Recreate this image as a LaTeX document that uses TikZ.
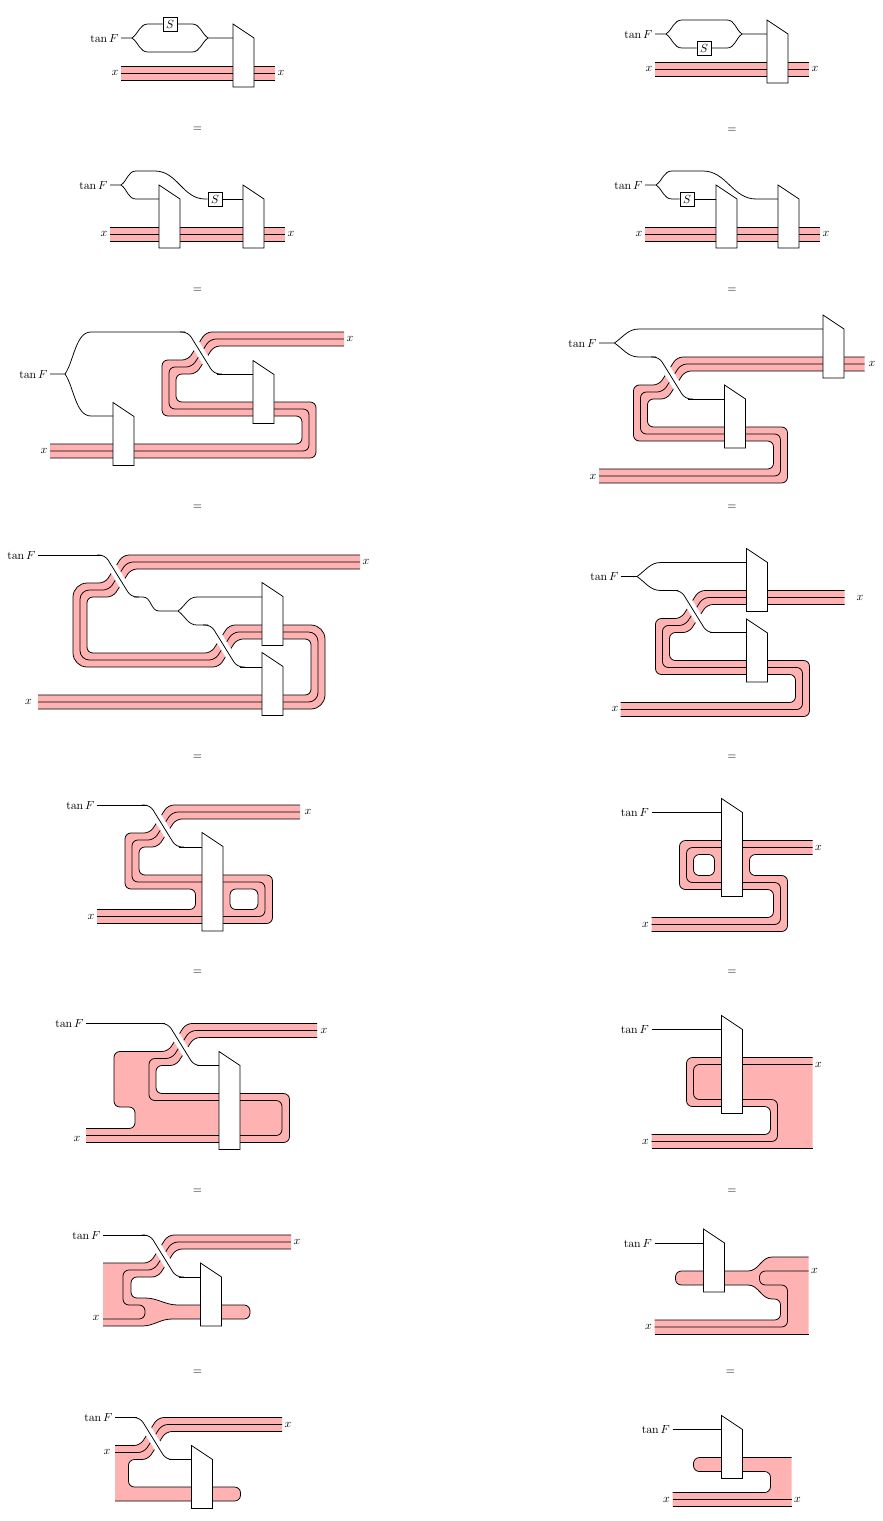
\documentclass[tikz,border=0pt]{standalone}
\tikzset{
  wire/.style={line width=0.65pt},
  strand/.style={wire,rounded corners=5pt},
  ribbonfill/.style={fill=red!30,rounded corners=5pt},
  halo/.style={white,line width=7.5pt},
  lensbox/.style={draw,fill=white,line width=0.65pt,line join=miter},
  sbox/.style={draw,fill=white,line width=0.65pt,minimum size=11.9pt,inner sep=0pt},
  lblL/.style={anchor=east,inner sep=2pt},
  lblR/.style={anchor=west,inner sep=2pt}
}
% band: first edge and its end, middle, last edge (start, rest, end)
\newcommand{\ribbon}[6]{
  \fill[ribbonfill] #1 [sharp corners] -- #2 -- #4 [rounded corners=5pt] #5 [sharp corners] -- #6 -- cycle;
  \draw[strand] #1 [sharp corners] -- #2; \draw[strand] #3; \draw[strand] #4 #5 [sharp corners] -- #6;
}
% wire over band
\newcommand{\xing}[2]{
  \draw[halo] ({#1+5},{#2+3}) -- ({#1+27},{#2+39});
  \draw[strand] ({#1-5},#2) -- ({#1+3},#2) -- ({#1+29},{#2+42}) -- ({#1+37},{#2+42});
}
\begin{document}
\begin{tikzpicture}[x=0.85pt,y=-0.85pt]
\useasboundingbox (0,0) rectangle (883,1521);
\foreach \x/\y in {197.5/129.5,197.5/290.5,197.5/507.5,197.5/757.5,197.5/972.5,197.5/1191.5,197.5/1372.5,732/130,732/290.5,732/507.5,732/757.5,732/972.5,732/1191.5,730.5/1372.5} \node at (\x,\y) {$=$};

% left column, first row
\ribbon{(121,66)}{(275,66)}{(121,73) -- (275,73)}{(275,80)}{}{(121,80)}
\node[lblL] (tanA) at (121,38) {$\tan F$}; \node[lblL] (xAl) at (121,73) {$x$}; \node[lblR] (xAr) at (275,73) {$x$};
\node[sbox] (sA) at (170,24) {$S$};
\draw[wire] (tanA) -- (132,38) to[out=35,in=180] (148,24) -- (sA);
\draw[wire] (sA) -- (192,24) to[out=0,in=145] (208,38) -- (233,38);
\draw[wire] (132,38) to[out=-35,in=180] (148,52) -- (192,52) to[out=0,in=-145] (208,38);

% second row
\ribbon{(110,227)}{(285,227)}{(110,234) -- (285,234)}{(285,241)}{}{(110,241)}
\node[lblL] (tanB) at (110,185) {$\tan F$}; \node[lblL] (xBl) at (110,234) {$x$}; \node[lblR] (xBr) at (285,234) {$x$};
\node[sbox] (sB) at (215,199) {$S$};
\draw[wire] (tanB) -- (121,185) to[out=35,in=180] (136,171) -- (155,171) to[out=0,in=180] (205,199) -- (sB);
\draw[wire] (sB) -- (243,199);
\draw[wire] (121,185) to[out=-35,in=180] (136,199) -- (159,199);

% third row
\ribbon{(344,332) -- (206,332) -- (188,360) -- (162,360) -- (162,416) -- (302,416) -- (302,444)}{(50,444)}
{(344,339) -- (210,339) -- (192,367) -- (169,367) -- (169,409) -- (309,409) -- (309,451) -- (50,451)}
{(50,458)}{-- (316,458) -- (316,402) -- (176,402) -- (176,374) -- (196,374) -- (214,346)}{(344,346)}
\node[lblL] (tanC) at (50,374) {$\tan F$}; \node[lblL] (xCl) at (50,451) {$x$}; \node[lblR] (xCr) at (344,339) {$x$};
\draw[wire] (tanC) -- (65,374) to[out=55,in=180,looseness=0.8] (91,332) -- (185,332);
\draw[wire] (65,374) to[out=-55,in=180,looseness=0.8] (91,416) -- (113,416);
\xing{185}{332}
\draw[wire] (217,374) -- (253,374);

% fourth row
\ribbon{(360,555) -- (123,555) -- (105,583) [rounded corners=12pt] -- (73,583) -- (73,667) [rounded corners=5pt] -- (219,667) -- (237,639) -- (311,639) -- (311,695)}{(38,695)}
{(360,562) -- (127,562) -- (109,590) [rounded corners=8pt] -- (80,590) -- (80,660) [rounded corners=5pt] -- (215,660) -- (233,632) [rounded corners=8pt] -- (318,632) -- (318,702) -- (38,702)}
{(38,709)}{[rounded corners=12pt] -- (325,709) -- (325,625) [rounded corners=5pt] -- (229,625) -- (211,653) -- (87,653) -- (87,597) -- (113,597) -- (131,569)}{(360,569)}
\node[lblL] (tanD) at (38,555) {$\tan F$}; \node[lblL] (xDl) at (34.5,702) {$x$}; \node[lblR] (xDr) at (360,562) {$x$};
\draw[wire] (tanD) -- (102,555);
\xing{102}{555}
\draw[wire] (134,597) -- (143,597) to[out=0,in=180] (159,611) -- (178,611) to[out=35,in=180] (197,597) -- (262,597);
\draw[wire] (178,611) to[out=-35,in=180] (197,625) -- (208,625);
\xing{208}{625}
\draw[wire] (240,667) -- (262,667);

% fifth row
\ribbon{(300,805) -- (168,805) -- (150,833) -- (125,833) -- (125,889) -- (195.5,889) -- (195.5,909.5)}{(97,909.5)}
{(300,812) -- (172,812) -- (154,840) -- (132,840) -- (132,882) -- (265,882) -- (265,916.5) -- (97,916.5)}
{(97,923.5)}{-- (272.5,923.5) -- (272.5,875) -- (139,875) -- (139,847) -- (158,847) -- (176,819)}{(300,819)}
\draw[strand,fill=white] (230,889) rectangle (258,909.5);
\node[lblL] (tanE) at (97,805) {$\tan F$}; \node[lblL] (xEl) at (97,916.5) {$x$}; \node[lblR] (xEr) at (302,812) {$x$};
\draw[wire] (tanE) -- (147,805);
\xing{147}{805}
\draw[wire] (179,847) -- (202,847);

% sixth row
\ribbon{(317,1023.5) -- (186,1023.5) -- (168,1051.5) -- (114,1051.5) -- (114,1107) -- (135,1107) -- (135,1128.5)}{(86,1128.5)}
{(317,1030.5) -- (190,1030.5) -- (172,1058.5) -- (149,1058.5) -- (149,1100.5) -- (282,1100.5) -- (282,1135.5) -- (86,1135.5)}
{(86,1142.5)}{-- (289.5,1142.5) -- (289.5,1093.5) -- (156,1093.5) -- (156,1065.5) -- (176,1065.5) -- (194,1037.5)}{(317,1037.5)}
\node[lblL] (tanF) at (86,1023.5) {$\tan F$}; \node[lblL] (xFl) at (83,1139) {$x$}; \node[lblR] (xFr) at (318,1030.5) {$x$};
\draw[wire] (tanF) -- (165,1023.5);
\xing{165}{1023.5}
\draw[wire] (197,1065.5) -- (219,1065.5);

% seventh row
\ribbon{(291,1235) -- (168,1235) -- (150,1263)}{(103,1263)}
{(291,1242) -- (172,1242) -- (154,1270) -- (123,1270) -- (123,1305) -- (145,1305) -- (145,1319) -- (103,1319)}
{(103,1326)}{[sharp corners] -- (142,1326) to[out=0,in=180] (172,1319) [rounded corners=5pt] -- (250,1319) -- (250,1305) [sharp corners] -- (178,1305) to[out=180,in=0] (145,1298) [rounded corners=5pt] -- (131,1298) -- (131,1277) -- (158,1277) -- (176,1249)}{(291,1249)}
\node[lblL] (tanG) at (103,1235) {$\tan F$}; \node[lblL] (xGl) at (102,1318) {$x$}; \node[lblR] (xGr) at (291,1242) {$x$};
\draw[wire] (tanG) -- (147,1235);
\xing{147}{1235}
\draw[wire] (179,1277) -- (200.5,1277);

% eighth row
\ribbon{(282,1417.5) -- (158,1417.5) -- (140,1445.5)}{(115,1445.5)}
{(282,1424.5) -- (162,1424.5) -- (144,1452.5) -- (115,1452.5)}
{(115,1501)}{-- (240.5,1501) -- (240.5,1487) -- (128.5,1487) -- (128.5,1459.5) -- (148,1459.5) -- (166,1431.5)}{(282,1431.5)}
\node[lblL] (tanH) at (115,1417.5) {$\tan F$}; \node[lblL] (xHl) at (113,1452) {$x$}; \node[lblR] (xHr) at (282,1424.5) {$x$};
\draw[wire] (tanH) -- (137,1417.5);
\xing{137}{1417.5}
\draw[wire] (169,1459.5) -- (191.5,1459.5);

% right column, first row
\ribbon{(655,62)}{(809,62)}{(655,69) -- (809,69)}{(809,76)}{}{(655,76)}
\node[lblL] (tanI) at (655,34) {$\tan F$}; \node[lblL] (xIl) at (655,69) {$x$}; \node[lblR] (xIr) at (809,69) {$x$};
\node[sbox] (sI) at (704,48) {$S$};
\draw[wire] (tanI) -- (666,34) to[out=35,in=180] (682,20) -- (727,20) to[out=0,in=145] (742,34) -- (767,34);
\draw[wire] (666,34) to[out=-35,in=180] (682,48) -- (sI);
\draw[wire] (sI) -- (727,48) to[out=0,in=-145] (742,34);

% second row
\ribbon{(645,227)}{(820,227)}{(645,234) -- (820,234)}{(820,241)}{}{(645,241)}
\node[lblL] (tanJ) at (645,185) {$\tan F$}; \node[lblL] (xJl) at (645,234) {$x$}; \node[lblR] (xJr) at (820,234) {$x$};
\node[sbox] (sJ) at (687,199) {$S$};
\draw[wire] (tanJ) -- (656,185) to[out=35,in=180] (672,171) -- (703,171) to[out=0,in=180] (756,199) -- (778,199);
\draw[wire] (656,185) to[out=-35,in=180] (672,199) -- (sJ);
\draw[wire] (sJ) -- (716,199);

% third row
\ribbon{(864.5,357) -- (677,357) -- (659,385) -- (633.5,385) -- (633.5,441) -- (773.5,441) -- (773.5,469)}{(599,469)}
{(864.5,364) -- (681,364) -- (663,392) -- (640.5,392) -- (640.5,434) -- (780.5,434) -- (780.5,476) -- (599,476)}
{(599,483)}{-- (787.5,483) -- (787.5,427) -- (647.5,427) -- (647.5,399) -- (667,399) -- (685,371)}{(864.5,371)}
\node[lblL] (tanK) at (599,343) {$\tan F$}; \node[lblL] (xKl) at (599,477) {$x$}; \node[lblR] (xKr) at (866,364) {$x$};
\draw[wire] (tanK) -- (614.5,343) to[out=35,in=180] (639,329) -- (823,329);
\draw[wire] (614.5,343) to[out=-35,in=180] (639,357) -- (656,357);
\xing{656}{357}
\draw[wire] (688,399) -- (724.5,399);

% fourth row
\ribbon{(844.5,590.5) -- (699,590.5) -- (681,618.5) -- (655.5,618.5) -- (655.5,674.5) -- (795.5,674.5) -- (795.5,702.5)}{(620.7,702.5)}
{(844.5,597.5) -- (703,597.5) -- (685,625.5) -- (662.5,625.5) -- (662.5,667.5) -- (802.5,667.5) -- (802.5,709.5) -- (620.7,709.5)}
{(620.7,716.5)}{-- (809.5,716.5) -- (809.5,660.5) -- (669.5,660.5) -- (669.5,632.5) -- (689,632.5) -- (707,604.5)}{(844.5,604.5)}
\node[lblL] (tanL) at (621,576.5) {$\tan F$}; \node[lblL] (xLl) at (621,709) {$x$}; \node[lblR] (xLr) at (854,597.5) {$x$};
\draw[wire] (tanL) -- (637,576.5) to[out=35,in=180] (661,562.5) -- (746.5,562.5);
\draw[wire] (637,576.5) to[out=-35,in=180] (661,590.5) -- (678,590.5);
\xing{678}{590.5}
\draw[wire] (710,632.5) -- (746.5,632.5);

% fifth row
\ribbon{(812.5,840.5) -- (679.5,840.5) -- (679.5,889.5) -- (773.5,889.5) -- (773.5,917.5)}{(651.5,917.5)}
{(812.5,847.5) -- (686.5,847.5) -- (686.5,882.5) -- (780.5,882.5) -- (780.5,924.5) -- (651.5,924.5)}
{(651.5,931.5)}{-- (787.5,931.5) -- (787.5,875.5) -- (749.5,875.5) -- (749.5,854.5)}{(812.5,854.5)}
\draw[strand,fill=white] (693.5,854.5) rectangle (714.5,875.5);
\node[lblL] (tanM) at (651.5,812.5) {$\tan F$}; \node[lblL] (xMl) at (651.5,924.5) {$x$}; \node[lblR] (xMr) at (812.5,847.5) {$x$};
\draw[wire] (tanM) -- (721.5,812.5);

% sixth row
\ribbon{(812.5,1057.5) -- (686.5,1057.5) -- (686.5,1106.5) -- (770.5,1106.5) -- (770.5,1134.5)}{(651.5,1134.5)}
{(812.5,1064.5) -- (693.5,1064.5) -- (693.5,1099.5) -- (777.5,1099.5) -- (777.5,1141.5) -- (651.5,1141.5)}
{(651.5,1148.5)}{}{(812.5,1148.5)}
\node[lblL] (tanN) at (651.5,1029.5) {$\tan F$}; \node[lblL] (xNl) at (651.5,1141.5) {$x$}; \node[lblR] (xNr) at (812.5,1064.5) {$x$};
\draw[wire] (tanN) -- (721.5,1029.5);

% seventh row
\ribbon{(808.5,1257) [sharp corners] -- (772,1257) to[out=180,in=0] (748,1271) [rounded corners=5pt] -- (675.5,1271) -- (675.5,1285) [sharp corners] -- (748,1285) to[out=0,in=180] (772,1299) [rounded corners=5pt] -- (780.5,1299) -- (780.5,1320)}{(654.5,1320)}
{(808.5,1271) -- (759.5,1271) -- (759.5,1285) -- (787.5,1285) -- (787.5,1327) -- (654.5,1327)}
{(654.5,1334)}{}{(808.5,1334)}
\node[lblL] (tanO) at (654.5,1243) {$\tan F$}; \node[lblL] (xOl) at (654.5,1327) {$x$}; \node[lblR] (xOr) at (808.5,1271) {$x$};
\draw[wire] (tanO) -- (703.5,1243);

% eighth row
\ribbon{(791.5,1457.5) -- (693.5,1457.5) -- (693.5,1471.5) -- (770.5,1471.5) -- (770.5,1492.5)}{(672.5,1492.5)}
{(672.5,1499.5) -- (791.5,1499.5)}
{(672.5,1506.5)}{}{(791.5,1506.5)}
\node[lblL] (tanP) at (672.5,1429.5) {$\tan F$}; \node[lblL] (xPl) at (672.5,1499.5) {$x$}; \node[lblR] (xPr) at (791.5,1499.5) {$x$};
\draw[wire] (tanP) -- (721.5,1429.5);

% the boxes go over everything
\foreach \x/\y/\h in {233/24/63,159/185/63,243/185/63,253/360.5/63,113/402.5/63,262/582.5/63,262/652.5/63,202/832.5/98.5,219/1051.5/98,200.5/1263/63,191.5/1445.5/63,767/20/63,716/185/63,778/185/63,823/315/63,724.5/385/63,746.5/548.5/63,746.5/619/63,721.5/798.5/98,721.5/1015.5/98,703.5/1229/63,721.5/1415.5/63}
  \draw[lensbox] (\x,\y) -- (\x+21,\y+14) -- (\x+21,\y+\h) -- (\x,\y+\h) -- cycle;
\end{tikzpicture}
\end{document}
